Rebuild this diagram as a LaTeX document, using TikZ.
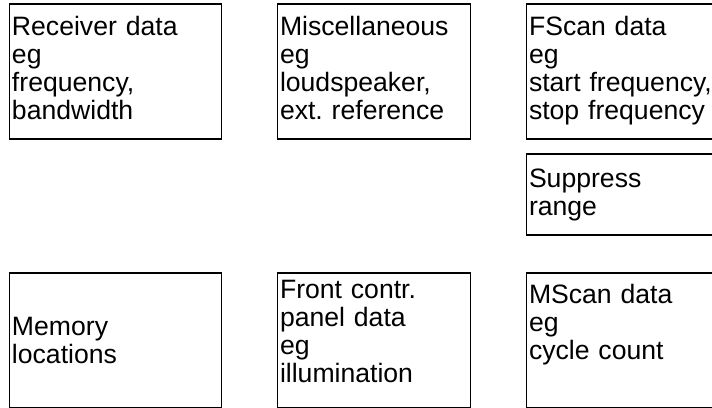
\documentclass[tikz,border=0pt]{standalone}
\usepackage{fontspec}
\setmainfont{Liberation Sans}
\usetikzlibrary{positioning}
\frenchspacing
\tikzset{
  box/.style={draw=black, line width=1.5pt, align=left, inner xsep=2.5pt, inner ysep=0pt, outer sep=0pt, font=\fontsize{26.6}{28.3}\selectfont},
  widebox/.style={box, text width=207pt},
  midbox/.style={box, text width=188pt},
  rightbox/.style={box, text width=195pt},
  tallbox/.style={text height=31pt, text depth=104pt}
}
\begin{document}
\begin{tikzpicture}[x=1pt, y=-1pt, node distance=56pt]
\useasboundingbox (0,0) rectangle (712,407);
\clip (0,0) rectangle (712,407);
\node[widebox, tallbox, anchor=north west] (recv) at (9.5,4) {Receiver data\\eg\\frequency,\\bandwidth};
\node[midbox, tallbox, right=of recv] (misc) {Miscellaneous\\eg\\loudspeaker,\\ext. reference};
\node[rightbox, tallbox, right=of misc] (fscan) {FScan data\\eg\\start frequency,\\stop frequency};
\node[rightbox, text height=33pt, text depth=48pt, below=15pt of fscan] (suppr) {Suppress\\range};
\node[widebox, minimum height=135pt, below=134pt of recv] (memory) {Memory\\locations};
\node[midbox, text height=25pt, text depth=110pt, below=134pt of misc] (front) {Front contr.\\panel data\\eg\\illumination};
\node[rightbox, text height=30pt, text depth=105pt, below=134pt of fscan] (mscan) {MScan data\\eg\\cycle count};
\end{tikzpicture}
\end{document}
